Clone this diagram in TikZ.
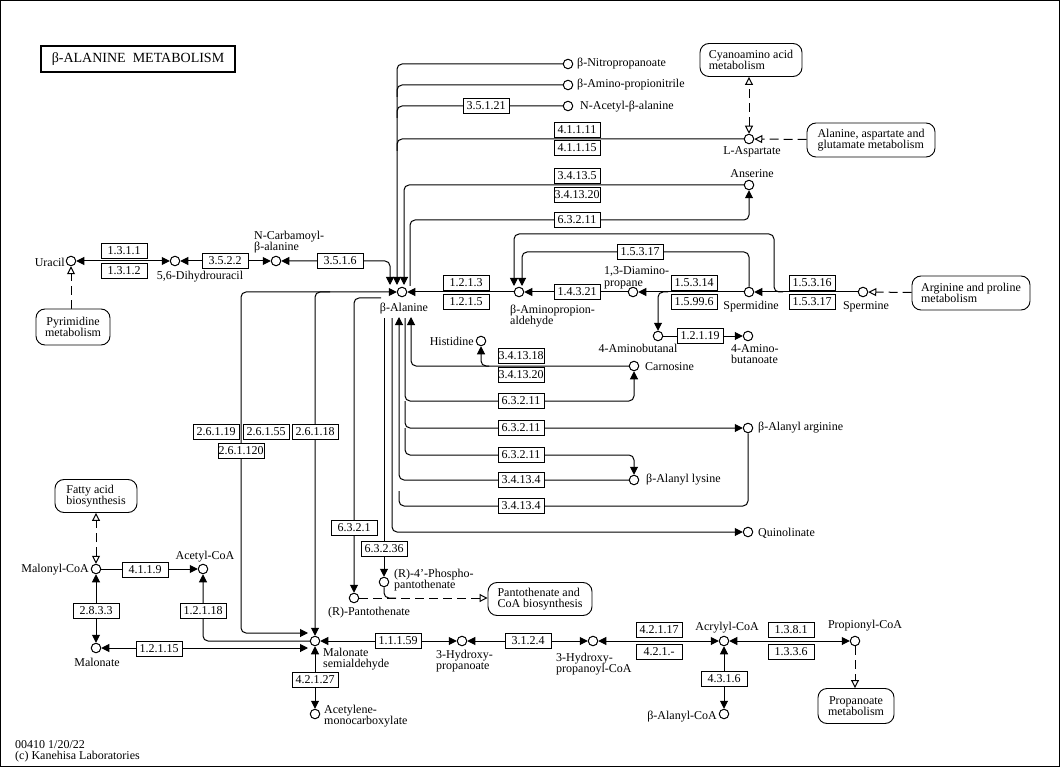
\documentclass[tikz,border=0pt]{standalone}
\usepackage{fontspec}
\setmainfont{Liberation Serif}
\usetikzlibrary{arrows.meta,backgrounds}
\newcommand\labf{\fontsize{12}{11.5}\selectfont}
\newcommand\titf{\fontsize{14}{15}\selectfont}
\begin{document}
\begin{tikzpicture}[x=1pt,y=-1pt,
 every node/.style={font=\labf, inner sep=0pt},
 cpd/.style={circle, draw, line width=1pt, minimum size=9.5pt, inner sep=0pt, fill=white},
 enz/.style={draw, line width=0.9pt, minimum width=46pt, minimum height=15pt, inner xsep=0.5pt, fill=white},
 mapb/.style={draw, line width=0.9pt, rounded corners=9pt, align=left, fill=white},
 lbl/.style={inner sep=0pt},
 ml/.style={inner sep=0pt, align=left},
 ln/.style={line width=1pt, rounded corners=5pt},
 ar/.style={ln, -{Triangle[length=8pt,width=8pt]}},
 bo/.style={ln, {Triangle[length=8pt,width=8pt]}-{Triangle[length=8pt,width=8pt]}},
 dl/.style={line width=1pt, dash pattern=on 9pt off 5pt},
 oa/.style={dl, -{Triangle[open,length=8pt,width=8pt]}},
 ob/.style={dl, {Triangle[open,length=8pt,width=8pt]}-{Triangle[open,length=8pt,width=8pt]}}]
\useasboundingbox (0,0) rectangle (1060,767);
\begin{pgfonlayer}{background}
\fill[white] (0,0) rectangle (1060,767);
\end{pgfonlayer}
\draw[line width=1pt] (0.5,0.5) rectangle (1059.5,766.5);

% ---------- compounds ----------
\node[cpd] (bala) at (402,292) {};
\node[cpd] (ura) at (71,261) {};
\node[cpd] (dhu) at (175,261) {};
\node[cpd] (ncb) at (276,261) {};
\node[cpd] (nitro) at (568,64) {};
\node[cpd] (amprop) at (568,85) {};
\node[cpd] (nacet) at (568,106) {};
\node[cpd] (lasp) at (749,139) {};
\node[cpd] (anser) at (749,185) {};
\node[cpd] (bapa) at (519,292) {};
\node[cpd] (dap) at (633,292) {};
\node[cpd] (spd) at (749,292) {};
\node[cpd] (spm) at (863,292) {};
\node[cpd] (abal) at (658,336) {};
\node[cpd] (abut) at (748,336) {};
\node[cpd] (his) at (481,341) {};
\node[cpd] (carn) at (634,366) {};
\node[cpd] (baarg) at (748,428) {};
\node[cpd] (balys) at (634,480) {};
\node[cpd] (quin) at (748,532) {};
\node[cpd] (malcoa) at (96,569) {};
\node[cpd] (accoa) at (203,569) {};
\node[cpd] (malon) at (96,648) {};
\node[cpd] (msa) at (315,641) {};
\node[cpd] (acmc) at (315,714) {};
\node[cpd] (pant) at (354,598) {};
\node[cpd] (ppant) at (384,582) {};
\node[cpd] (hp) at (462,641) {};
\node[cpd] (hpcoa) at (593,641) {};
\node[cpd] (acr) at (724,641) {};
\node[cpd] (prop) at (855,641) {};
\node[cpd] (bacoa) at (724,714) {};

% ---------- compound labels ----------
\node[lbl] (lbala) at (404,309) {β-Alanine};
\node[lbl, anchor=east] (lura) at (65,262) {Uracil};
\node[lbl] (ldhu) at (200,277) {5,6-Dihydrouracil};
\node[ml, anchor=west] (lncb) at (254,242) {N-Carbamoyl-\\β-alanine};
\node[lbl, anchor=west] (lnitro) at (577,64) {β-Nitropropanoate};
\node[lbl, anchor=west] (lamprop) at (577,85) {β-Amino-propionitrile};
\node[lbl, anchor=west] (lnacet) at (580,107) {N-Acetyl-β-alanine};
\node[lbl] (llasp) at (752,152) {L-Aspartate};
\node[lbl] (lanser) at (752,174) {Anserine};
\node[ml, anchor=west] (lbapa) at (510,316) {β-Aminopropion-\\aldehyde};
\node[ml, anchor=west] (ldap) at (604,278) {1,3-Diamino-\\propane};
\node[lbl] (lspd) at (751,307) {Spermidine};
\node[lbl] (lspm) at (866,307) {Spermine};
\node[lbl] (labal) at (638,348) {4-Aminobutanal};
\node[ml, anchor=west] (labut) at (731,354) {4-Amino-\\butanoate};
\node[lbl, anchor=east] (lhis) at (474,341) {Histidine};
\node[lbl, anchor=west] (lcarn) at (645,367) {Carnosine};
\node[lbl, anchor=west] (lbaarg) at (758,428) {β-Alanyl arginine};
\node[lbl, anchor=west] (lbalys) at (646,480) {β-Alanyl lysine};
\node[lbl, anchor=west] (lquin) at (758,533) {Quinolinate};
\node[lbl, anchor=east] (lmalcoa) at (89,570) {Malonyl-CoA};
\node[lbl] (laccoa) at (205,557) {Acetyl-CoA};
\node[lbl] (lmalon) at (97,662) {Malonate};
\node[ml, anchor=west] (lmsa) at (323,659) {Malonate\\semialdehyde};
\node[ml, anchor=west] (lacmc) at (324,716) {Acetylene-\\monocarboxylate};
\node[lbl] (lpant) at (369,613) {(R)-Pantothenate};
\node[ml, anchor=west] (lppant) at (394,580) {(R)-4'-Phospho-\\pantothenate};
\node[ml, anchor=west] (lhp) at (436,661) {3-Hydroxy-\\propanoate};
\node[ml, anchor=west] (lhpcoa) at (556,664) {3-Hydroxy-\\propanoyl-CoA};
\node[lbl] (lacr) at (727,628) {Acrylyl-CoA};
\node[lbl] (lprop) at (865,626) {Propionyl-CoA};
\node[lbl, anchor=east] (lbacoa) at (717,717) {β-Alanyl-CoA};

% ---------- map boxes ----------
\node[mapb, minimum width=102pt, minimum height=33pt] (cyano) at (751,60) {Cyanoamino acid\\metabolism};
\node[mapb, minimum width=128pt, minimum height=34pt] (alamap) at (871,140) {Alanine, aspartate and\\glutamate metabolism};
\node[mapb, minimum width=118pt, minimum height=34pt] (argmap) at (971,293) {Arginine and proline\\metabolism};
\node[mapb, minimum width=74pt, minimum height=36pt, align=center] (pyrmap) at (73,327) {Pyrimidine\\metabolism};
\node[mapb, minimum width=82pt, minimum height=33pt] (fatmap) at (96,496) {Fatty acid\\biosynthesis};
\node[mapb, minimum width=104pt, minimum height=33pt] (pantmap) at (540,599) {Pantothenate and\\CoA biosynthesis};
\node[mapb, minimum width=76pt, minimum height=35pt, align=center] (propmap) at (856,706) {Propanoate\\metabolism};

% ---------- enzymes ----------
\node[enz] (e1311) at (124,250.5) {1.3.1.1};
\node[enz] (e1312) at (124,270.5) {1.3.1.2};
\node[enz] (e3522) at (225,261) {3.5.2.2};
\node[enz] (e3516) at (340,261) {3.5.1.6};
\node[enz] (e35121) at (486,106) {3.5.1.21};
\node[enz] (e41111) at (577,130) {4.1.1.11};
\node[enz] (e41115) at (577,148) {4.1.1.15};
\node[enz] (e34135) at (577,176) {3.4.13.5};
\node[enz] (e341320a) at (577,195) {3.4.13.20};
\node[enz] (e63211a) at (577,220) {6.3.2.11};
\node[enz] (e15317a) at (640,252) {1.5.3.17};
\node[enz] (e1213) at (466,283) {1.2.1.3};
\node[enz] (e1215) at (466,302) {1.2.1.5};
\node[enz] (e14321) at (577,292) {1.4.3.21};
\node[enz] (e15314) at (694,283) {1.5.3.14};
\node[enz] (e15996) at (694,302) {1.5.99.6};
\node[enz] (e15316) at (812,283) {1.5.3.16};
\node[enz] (e15317b) at (812,302) {1.5.3.17};
\node[enz] (e12119) at (700,336) {1.2.1.19};
\node[enz] (e341318) at (521,356) {3.4.13.18};
\node[enz] (e341320b) at (521,375) {3.4.13.20};
\node[enz] (e63211b) at (521,401) {6.3.2.11};
\node[enz] (e63211c) at (521,428) {6.3.2.11};
\node[enz] (e63211d) at (521,455) {6.3.2.11};
\node[enz] (e34134a) at (521,480) {3.4.13.4};
\node[enz] (e34134b) at (521,506) {3.4.13.4};
\node[enz] (e26119) at (216,432) {2.6.1.19};
\node[enz] (e26155) at (266,432) {2.6.1.55};
\node[enz] (e26118) at (315,432) {2.6.1.18};
\node[enz] (e261120) at (241,451) {2.6.1.120};
\node[enz] (e6321) at (354,528) {6.3.2.1};
\node[enz] (e63236) at (384,549) {6.3.2.36};
\node[enz] (e4119) at (145,570) {4.1.1.9};
\node[enz] (e2833) at (96,611) {2.8.3.3};
\node[enz] (e12118) at (203,611) {1.2.1.18};
\node[enz] (e12115) at (159,649) {1.2.1.15};
\node[enz] (e11159) at (398,641) {1.1.1.59};
\node[enz] (e42127) at (315,680) {4.2.1.27};
\node[enz] (e3124) at (528,641) {3.1.2.4};
\node[enz] (e42117) at (659,630) {4.2.1.17};
\node[enz] (e421x) at (659,652) {4.2.1.-};
\node[enz] (e1381) at (791,630) {1.3.8.1};
\node[enz] (e1336) at (791,652) {1.3.3.6};
\node[enz] (e4316) at (724,679) {4.3.1.6};

% ---------- title and footer ----------
\node[draw, line width=2pt, minimum width=194pt, minimum height=26pt, font=\titf] (title) at (138,59) {β-ALANINE\ \ METABOLISM};
\node[lbl, anchor=west] (foot1) at (15,745) {00410 1/20/22};
\node[lbl, anchor=west] (foot2) at (15,757) {(c) Kanehisa Laboratories};

% ---------- free ends ----------
\coordinate (aT) at (397,285);
\coordinate (bT) at (404,285);
\coordinate (cT) at (410,286);
\coordinate (uT) at (390,285);
\coordinate (lT) at (399,317);
\coordinate (hT) at (411,317);
\coordinate (qS) at (392,318);
\coordinate (sS) at (405,318);
\coordinate (pS) at (384,318);
\coordinate (p1S) at (381,298);
\coordinate (j18) at (330,292);
\coordinate (msaA) at (308,633);
\coordinate (msaC) at (308,648);
\coordinate (bpT1) at (514,286);
\coordinate (bpT2) at (522,286);
\coordinate (oB) at (783,292);
\coordinate (oC) at (774,234);
\coordinate (abB) at (668,292);
\coordinate (hb) at (489,366);
\coordinate (pJ) at (396,598);

\begin{pgfonlayer}{background}
% top rails into beta-alanine
\draw[ar] (nitro) -| (aT);
\draw[ln] (amprop) -- (amprop -| aT) -- ++(0,12);
\draw[ln] (nacet) -- (nacet -| aT) -- ++(0,12);
\draw[ln] (lasp) -- (lasp -| aT) -- ++(0,12);
\draw[ar] (anser) -| (bT);
\draw[ar] (cT) |- (anser |- e63211a) -- (anser);
% uracil chain
\draw[bo] (ura) -- (dhu);
\draw[bo] (dhu) -- (ncb);
\draw[bo] (ncb) -- (ncb -| uT) -- (uT);
% left rails
\draw[bo] (msaA) -| (bala -| e261120) -- (bala);
\draw[ar] (j18) -| (msa);
% bottom rails
\draw[ar] (p1S) -| (pant);
\draw[ar] (pS) -- (ppant);
\draw[ar] (qS) |- (quin);
\draw[ar] (balys) -| (lT);
\draw[ln] (baarg) |- (lT |- e34134b) -- ++(0,-15);
\draw[ar] (sS) |- (carn |- e63211b) -- (carn);
\draw[ar] (sS |- e63211b) |- (baarg);
\draw[ar] (sS |- e63211c) |- (balys |- e63211d) -- (balys);
\draw[ar] (carn) -| (hT);
\draw[ar] (hb) -| (his);
% right side
\draw[ar] (bapa) -- (bala);
\draw[ar] (dap) -- (bapa);
\draw[ar] (spd) -- (dap);
\draw[ar] (abB) -| (abal);
\draw[ar] (abal) -- (abut);
\draw[ar] (spm) -- (spd);
\draw[ar] (oB) -| (oC) -| (bpT1);
\draw[ar] (spd) |- (bpT2 |- e15317a) -- (bpT2);
% map links
\draw[ob] (lasp) -- (lasp |- cyano.south);
\draw[oa] (alamap) -- (lasp);
\draw[oa] (argmap) -- (spm);
\draw[oa] (ura |- pyrmap.north) -- (ura);
\draw[ob] (malcoa) -- (malcoa |- fatmap.south);
\draw[oa] (prop) -- (prop |- propmap.north);
\draw[oa] (pant) -- (pant -| pantmap.west);
\draw[ln] (ppant) |- (pJ);
% lower chain
\draw[ar] (malcoa) -- (accoa);
\draw[bo] (malcoa) -- (malon);
\draw[ar] (msa) -| (accoa);
\draw[bo] (malon) -- (msaC);
\draw[bo] (msa) -- (hp);
\draw[bo] (hp) -- (hpcoa);
\draw[bo] (hpcoa) -- (acr);
\draw[bo] (acr) -- (prop);
\draw[bo] (msa) -- (acmc);
\draw[bo] (acr) -- (bacoa);
\end{pgfonlayer}
\end{tikzpicture}
\end{document}
